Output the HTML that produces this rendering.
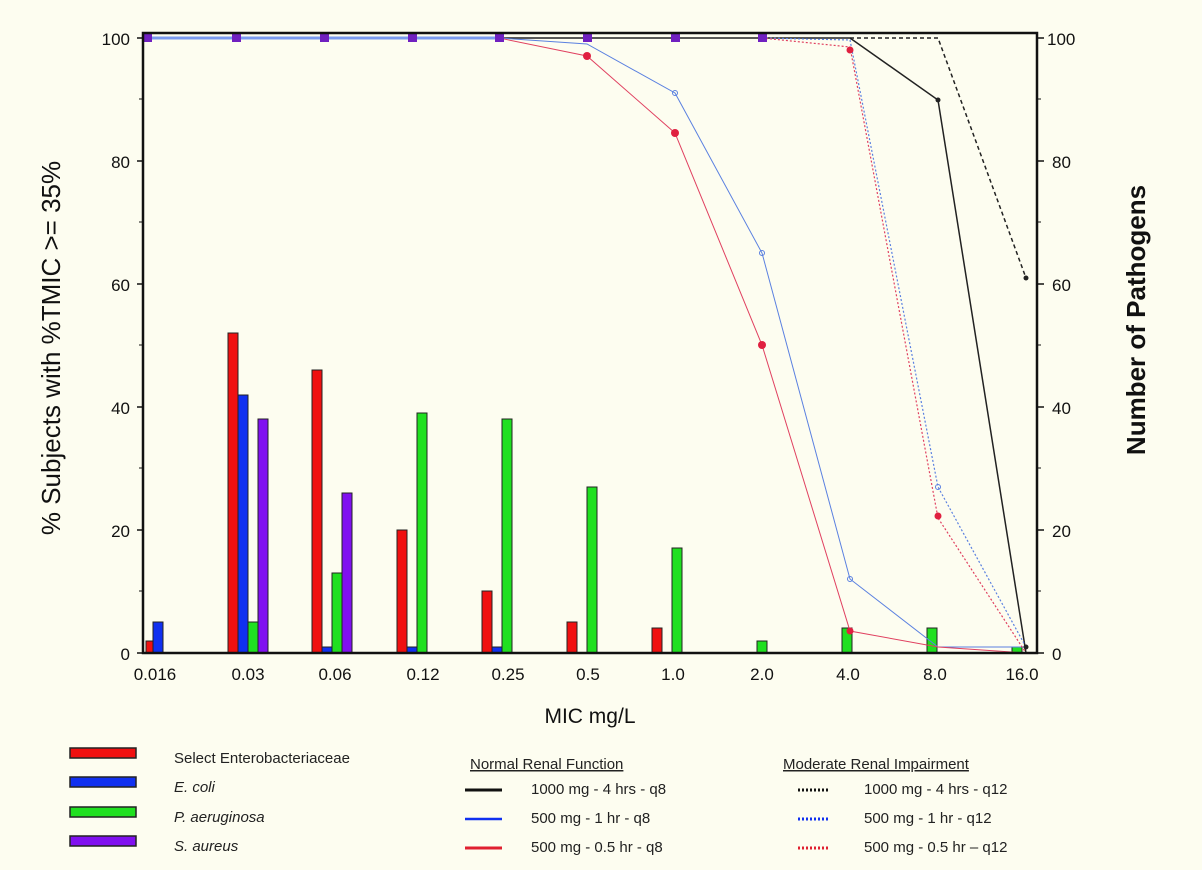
<!DOCTYPE html>
<html><head><meta charset="utf-8"><style>
html,body{margin:0;padding:0;background:#fdfdf0;}
svg{display:block;font-family:"Liberation Sans",sans-serif;}
</style></head><body>
<svg width="1202" height="870" viewBox="0 0 1202 870" xmlns="http://www.w3.org/2000/svg">
<rect width="1202" height="870" fill="#fdfdf0"/>
<g stroke="#222" stroke-width="1">
<rect x="146" y="641" width="7" height="12" fill="#f01010"/>
<rect x="153" y="622" width="10" height="31" fill="#1030f0"/>
<rect x="228" y="333" width="10" height="320" fill="#f01010"/>
<rect x="238" y="395" width="10" height="258" fill="#1030f0"/>
<rect x="248" y="622" width="10" height="31" fill="#20e020"/>
<rect x="258" y="419" width="10" height="234" fill="#8010f0"/>
<rect x="312" y="370" width="10" height="283" fill="#f01010"/>
<rect x="322" y="647" width="10" height="6" fill="#1030f0"/>
<rect x="332" y="573" width="10" height="80" fill="#20e020"/>
<rect x="342" y="493" width="10" height="160" fill="#8010f0"/>
<rect x="397" y="530" width="10" height="123" fill="#f01010"/>
<rect x="407" y="647" width="10" height="6" fill="#1030f0"/>
<rect x="417" y="413" width="10" height="240" fill="#20e020"/>
<rect x="482" y="591" width="10" height="62" fill="#f01010"/>
<rect x="492" y="647" width="10" height="6" fill="#1030f0"/>
<rect x="502" y="419" width="10" height="234" fill="#20e020"/>
<rect x="567" y="622" width="10" height="31" fill="#f01010"/>
<rect x="587" y="487" width="10" height="166" fill="#20e020"/>
<rect x="652" y="628" width="10" height="25" fill="#f01010"/>
<rect x="672" y="548" width="10" height="105" fill="#20e020"/>
<rect x="757" y="641" width="10" height="12" fill="#20e020"/>
<rect x="842" y="628" width="10" height="25" fill="#20e020"/>
<rect x="927" y="628" width="10" height="25" fill="#20e020"/>
<rect x="1012" y="647" width="10" height="6" fill="#20e020"/>
</g>
<polyline fill="none" stroke="#7a9af0" stroke-width="3" points="148,38 499,38"/>
<polyline fill="none" stroke="#222" stroke-width="1.5" points="499,38 850,38 938,100 1026,653"/>
<polyline fill="none" stroke="#222" stroke-width="1.5" stroke-dasharray="4,3" points="850,38 938,38 1026,278"/>
<polyline fill="none" stroke="#5a80e0" stroke-width="1" points="499,38 587,44 675,93 762,253 850,579 938,647 1026,647"/>
<polyline fill="none" stroke="#e04060" stroke-width="1" points="499,38 587,56 675,133 762,345 850,631 938,647 1026,653"/>
<polyline fill="none" stroke="#5a80e0" stroke-width="1.2" stroke-dasharray="2,2" points="762,38 850,40 938,487 1026,647"/>
<polyline fill="none" stroke="#e04060" stroke-width="1.2" stroke-dasharray="2,2" points="762,38 850,47 938,518 1026,653"/>
<g fill="#7020c0">
<rect x="143" y="34" width="9" height="8"/><rect x="232" y="34" width="9" height="8"/><rect x="320" y="34" width="9" height="8"/><rect x="408" y="34" width="9" height="8"/><rect x="495" y="34" width="9" height="8"/><rect x="583" y="34" width="9" height="8"/><rect x="671" y="34" width="9" height="8"/><rect x="758" y="34" width="9" height="8"/>
</g>
<g fill="#e02040">
<circle cx="587" cy="56" r="4"/><circle cx="675" cy="133" r="4"/><circle cx="762" cy="345" r="4"/><circle cx="850" cy="631" r="3.5"/><circle cx="850" cy="50" r="3.5"/><circle cx="938" cy="516" r="3.5"/>
</g>
<g fill="none" stroke="#5a80e0"><circle cx="675" cy="93" r="2.5"/><circle cx="762" cy="253" r="2.5"/><circle cx="850" cy="579" r="2.5"/><circle cx="938" cy="487" r="2.5"/></g>
<g fill="#222"><circle cx="938" cy="100" r="2.5"/><circle cx="1026" cy="278" r="2.5"/><circle cx="1026" cy="647" r="2.5"/></g>
<rect x="143" y="33" width="894" height="620" fill="none" stroke="#111" stroke-width="2.5"/>
<g stroke="#111" stroke-width="1.5">
<line x1="137" y1="38" x2="143" y2="38"/><line x1="137" y1="161" x2="143" y2="161"/><line x1="137" y1="284" x2="143" y2="284"/><line x1="137" y1="407" x2="143" y2="407"/><line x1="137" y1="530" x2="143" y2="530"/><line x1="137" y1="653" x2="143" y2="653"/>
<line x1="1037" y1="38" x2="1044" y2="38"/><line x1="1037" y1="161" x2="1044" y2="161"/><line x1="1037" y1="284" x2="1044" y2="284"/><line x1="1037" y1="407" x2="1044" y2="407"/><line x1="1037" y1="530" x2="1044" y2="530"/><line x1="1037" y1="653" x2="1044" y2="653"/>
</g>
<g stroke="#111" stroke-width="1">
<line x1="139" y1="99" x2="143" y2="99"/><line x1="139" y1="222" x2="143" y2="222"/><line x1="139" y1="345" x2="143" y2="345"/><line x1="139" y1="468" x2="143" y2="468"/><line x1="139" y1="591" x2="143" y2="591"/>
<line x1="1037" y1="99" x2="1041" y2="99"/><line x1="1037" y1="222" x2="1041" y2="222"/><line x1="1037" y1="345" x2="1041" y2="345"/><line x1="1037" y1="468" x2="1041" y2="468"/><line x1="1037" y1="591" x2="1041" y2="591"/>
</g>
<g font-size="17" fill="#111" text-anchor="end">
<text x="130" y="45">100</text><text x="130" y="168">80</text><text x="130" y="291">60</text><text x="130" y="414">40</text><text x="130" y="537">20</text><text x="130" y="660">0</text>
</g>
<g font-size="17" fill="#111" text-anchor="start">
<text x="1047" y="45">100</text><text x="1052" y="168">80</text><text x="1052" y="291">60</text><text x="1052" y="414">40</text><text x="1052" y="537">20</text><text x="1052" y="660">0</text>
</g>
<g font-size="17" fill="#111" text-anchor="middle">
<text x="155" y="680">0.016</text><text x="248" y="680">0.03</text><text x="335" y="680">0.06</text><text x="423" y="680">0.12</text><text x="508" y="680">0.25</text><text x="588" y="680">0.5</text><text x="673" y="680">1.0</text><text x="762" y="680">2.0</text><text x="848" y="680">4.0</text><text x="935" y="680">8.0</text><text x="1022" y="680">16.0</text>
</g>
<text x="590" y="723" font-size="21" text-anchor="middle" fill="#111">MIC mg/L</text>
<text transform="translate(60,348) rotate(-90)" font-size="26" text-anchor="middle" fill="#111">% Subjects with %TMIC &gt;= 35%</text>
<text transform="translate(1145,320) rotate(-90)" font-size="26" font-weight="bold" text-anchor="middle" fill="#111">Number of Pathogens</text>
<g stroke="#222" stroke-width="1.5">
<rect x="70" y="748" width="66" height="10" fill="#f01010"/>
<rect x="70" y="777" width="66" height="10" fill="#1030f0"/>
<rect x="70" y="807" width="66" height="10" fill="#20e020"/>
<rect x="70" y="836" width="66" height="10" fill="#8010f0"/>
</g>
<g font-size="15" fill="#222">
<text x="174" y="763">Select Enterobacteriaceae</text>
<text x="174" y="792" font-style="italic">E. coli</text>
<text x="174" y="822" font-style="italic">P. aeruginosa</text>
<text x="174" y="851" font-style="italic">S. aureus</text>
<text x="470" y="769" text-decoration="underline">Normal Renal Function</text>
<text x="531" y="794">1000 mg - 4 hrs - q8</text>
<text x="531" y="823">500 mg - 1 hr - q8</text>
<text x="531" y="852">500 mg - 0.5 hr - q8</text>
<text x="783" y="769" text-decoration="underline">Moderate Renal Impairment</text>
<text x="864" y="794">1000 mg - 4 hrs - q12</text>
<text x="864" y="823">500 mg - 1 hr - q12</text>
<text x="864" y="852">500 mg - 0.5 hr – q12</text>
</g>
<line x1="465" y1="790" x2="502" y2="790" stroke="#111" stroke-width="3"/>
<line x1="465" y1="819" x2="502" y2="819" stroke="#1030f0" stroke-width="2.5"/>
<line x1="465" y1="848" x2="502" y2="848" stroke="#e02030" stroke-width="3"/>
<line x1="798" y1="790" x2="830" y2="790" stroke="#111" stroke-width="3" stroke-dasharray="2,2"/>
<line x1="798" y1="819" x2="830" y2="819" stroke="#1030f0" stroke-width="3" stroke-dasharray="2,2"/>
<line x1="798" y1="848" x2="830" y2="848" stroke="#e02030" stroke-width="3" stroke-dasharray="2,2"/>
</svg>
</body></html>
